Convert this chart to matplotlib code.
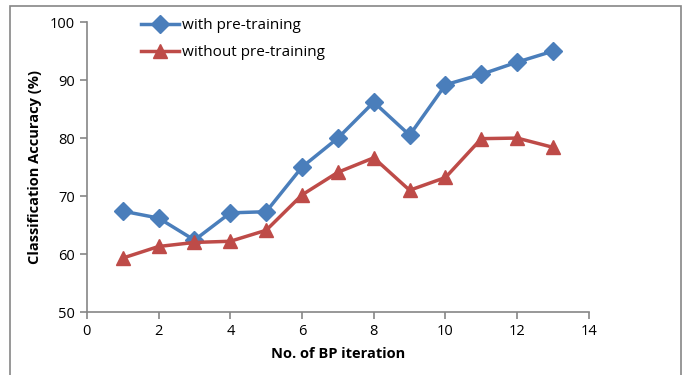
import matplotlib
matplotlib.use("Agg")
import matplotlib.pyplot as plt
from matplotlib.patches import Rectangle

iterations = [1, 2, 3, 4, 5, 6, 7, 8, 9, 10, 11, 12, 13]
with_pre = [67.4, 66.2, 62.4, 67.1, 67.3, 75.0, 80.0, 86.2, 80.5, 89.2, 91.0, 93.1, 95.0]
without_pre = [59.3, 61.3, 62.0, 62.2, 64.1, 70.2, 74.1, 76.6, 71.0, 73.2, 79.9, 80.0, 78.4]

plt.rcParams['font.family'] = ['Open Sans', 'DejaVu Sans']

fig = plt.figure(figsize=(6.84, 3.75), dpi=100)
ax = fig.add_axes([0.127, 0.168, 0.734, 0.773])

# outer chart border
fig.patches.append(Rectangle((0.015, -0.02), 0.98, 1.005, transform=fig.transFigure,
                             fill=False, edgecolor='#868686', linewidth=1.2))

ax.plot(iterations, with_pre, color='#4a7ebb', linewidth=2.5, marker='D',
        markersize=9, label='with pre-training', zorder=3)
ax.plot(iterations, without_pre, color='#be4b48', linewidth=2.5, marker='^',
        markersize=10, label='without pre-training', zorder=3)

ax.set_xlim(0, 14)
ax.set_ylim(50, 100)
ax.set_xticks(range(0, 15, 2))
ax.set_yticks(range(50, 101, 10))
for s in ['top', 'right']:
    ax.spines[s].set_visible(False)
for s in ['left', 'bottom']:
    ax.spines[s].set_color('#868686')
    ax.spines[s].set_linewidth(1.2)
ax.tick_params(colors='#868686', labelcolor='black', labelsize=10.5, length=5, width=1.2)

ax.set_xlabel('No. of BP iteration', fontsize=10.5, fontweight='bold', labelpad=6)
ax.set_ylabel('Classification Accuracy (%)', fontsize=10.5, fontweight='bold', labelpad=6)

ax.legend(loc='upper left', bbox_to_anchor=(0.08, 1.06), frameon=False, fontsize=11,
          handlelength=2.5, handletextpad=0.2, labelspacing=0.75)

fig.savefig('out.png', dpi=100)
